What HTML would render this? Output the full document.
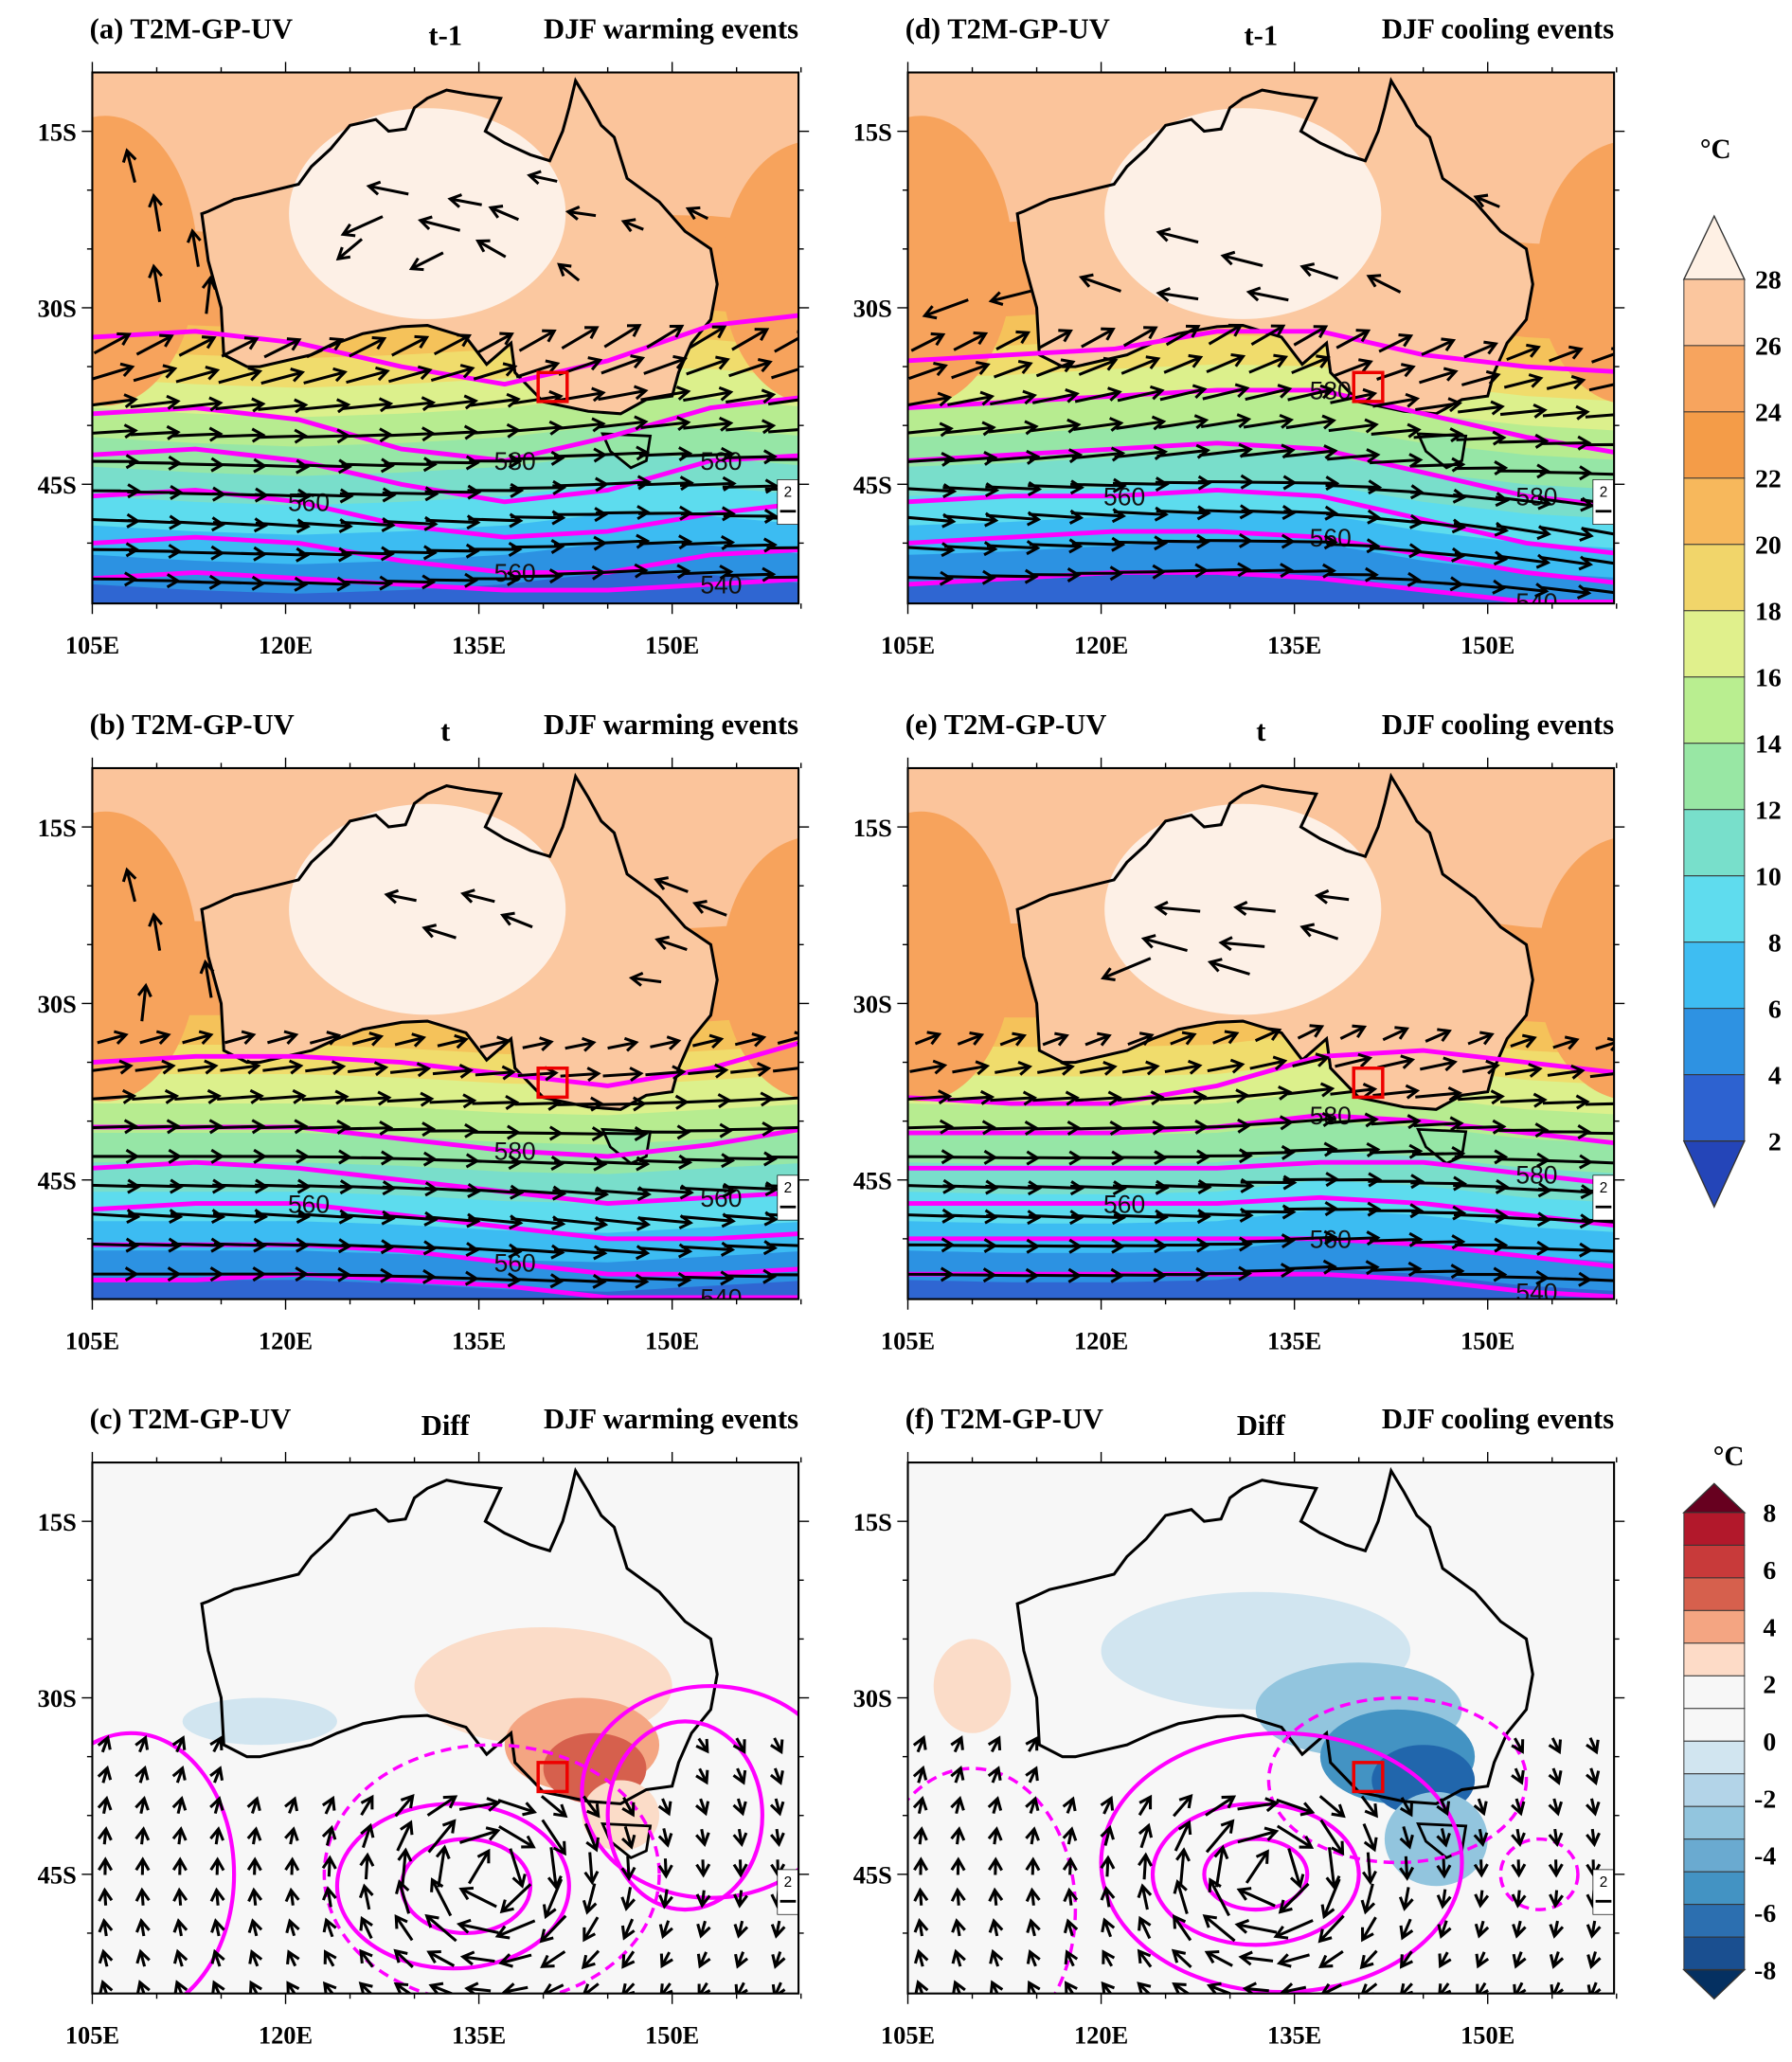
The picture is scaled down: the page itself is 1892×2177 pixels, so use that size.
<!DOCTYPE html>
<html><head><meta charset="utf-8"><style>
html,body{margin:0;padding:0;background:#fff}
svg{display:block}
text{font-family:"Liberation Serif",serif;font-weight:bold}
.lab{font-family:"Liberation Sans",sans-serif;font-weight:normal}
</style></head><body>
<svg id="fig" width="1892" height="2177" viewBox="0 0 1360 1565" xmlns="http://www.w3.org/2000/svg">
<defs>
<clipPath id="panelClip"><rect x="0" y="0" width="536" height="403"/></clipPath>
</defs>
</svg>
<script>
// ---- data ----
const panelOrigins=[[70,55],[689,55],[70,583],[689,583],[70,1110],[689,1110]];
const panelLetters=['(a)','(d)','(b)','(e)','(c)','(f)'];
const panelTimes=['t-1','t-1','t','t','Diff','Diff'];
const panelEvents=['DJF warming events','DJF cooling events','DJF warming events','DJF cooling events','DJF warming events','DJF cooling events'];
const lonTicks=[105,120,135,150];
const latTicks=[15,30,45];
const contourLons=[105,113,121,129,137,145,153,161];
const bandLats=[23,31,33.5,36,38.5,41,43.5,46,48.5,51,53.5];
const bandColors=['#fbc49b','#f7a35c','#f5c25a','#f0dc6c','#dcf08c','#b7ec90','#96e6a6','#79decb','#5ddcee','#3cbcf2','#2c92e2','#2f66d2'];
const gpA=[[32.5,32,33,35,36.5,34.5,31.5,30.5],[39,38.5,39.5,42,43,41,38.5,37.5],[42.5,42,43,45,46.5,45.5,43,42.5],[46,45.5,46.5,48.5,49.5,49,47.5,46.5],[50,49.5,50,51.5,52.5,52.5,51,50.5],[53,52.5,53,53.5,54,54,53.5,53]];
const gpD=[[34.5,34,33.5,32,32,34,35,35.5],[38.5,38,37.5,37,37,39,41,42.5],[43,42.5,42,41.5,42,44,46,47],[46.5,46,46,45.5,46,48,50,51],[50,49.5,49,49,49.5,51,52.5,53.5],[53.5,53,52.5,52.5,53,54,55,55]];
const gpB=[[35,34.5,34.5,35,36,37,35.5,33],[40.5,40.5,40.5,41.5,42.5,43,42,40.5],[44,43.5,44,45,46,47,46.5,46],[47.5,47,47,48,49,50,50,49.5],[50.5,50.5,50.5,51,52,53,53,52.5],[53.5,53.5,53,53.5,54,55,55,55]];
const gpE=[[38,38.5,38.5,37,34.5,34,35,36],[41,41,41,40.5,39.5,40,41,42],[44,44,44,44,43.5,43.5,44.5,45.5],[47,47,47,47,46.5,47,48,49],[50,50,50,50,50,50.5,51.5,52.5],[53,53,53,53,53,53.5,54.5,55]];
const gpSets=[gpA,gpD,gpB,gpE];
const gpLabels=[['580','580','560','560','540'],['580','580','560','560','540'],['580','560','560','560','540'],['580','580','560','560','540']];
const windLats=[33,35.5,38,40.5,43,45.5,48,50.5,53];
const windU=[[2.2,2.6,3,3,3.2,3.4,3.3,3.2,3],[2,2.3,2.8,3,3.2,3.4,3.3,3.2,3],[1.8,2.4,2.8,3,3.2,3.4,3.3,3.2,3.1],[1.5,2.2,2.8,3,3.2,3.4,3.3,3.2,3.1]];
const windV=[[1.2,0.8,0.4,0.2,0,0,-0.1,0,0],[1,0.8,0.5,0.3,0.2,-0.2,-0.3,-0.2,-0.1],[0.5,0.3,0.2,0.1,0,-0.1,-0.2,-0.1,0],[0.6,0.4,0.2,0.1,0,-0.1,-0.1,0,0]];
const landWindA=[[128,20,-2,0.4],[134,21,-1.6,0.3],[140,19,-1.4,0.3],[126,23,-2,-0.9],[132,23,-2,0.5],[137,22,-1.4,0.6],[143,22,-1.4,0.2],[147,23,-1,0.4],[125,25,-1.2,-1],[131,26,-1.6,-0.8],[136,25,-1.4,0.8],[142,27,-1,0.8],[152,22,-1,0.5],[108,18,-0.4,1.6],[110,22,-0.3,1.8],[113,25,-0.3,1.8],[110,28,-0.3,1.8],[114,29,0.2,1.8]];
const landWindD=[[126,24,-2,0.5],[131,26,-2,0.5],[137,27,-1.8,0.6],[142,28,-1.6,0.8],[120,28,-2,0.7],[126,29,-2,0.3],[133,29,-2,0.4],[113,29,-2,-0.5],[108,30,-2.2,-0.8],[150,21,-1.2,0.5]];
const landWindB=[[129,21,-1.5,0.3],[135,21,-1.6,0.4],[132,24,-1.6,0.5],[138,23,-1.5,0.6],[150,20,-1.6,0.6],[153,22,-1.6,0.6],[150,25,-1.5,0.5],[148,28,-1.5,0.2],[108,20,-0.4,1.6],[110,24,-0.3,1.8],[114,28,-0.3,1.8],[109,30,0.2,1.8]];
const landWindE=[[126,22,-2.2,0.2],[132,22,-2,0.2],[138,21,-1.6,0.2],[125,25,-2.2,0.6],[131,25,-2.2,0.2],[137,24,-1.8,0.6],[122,27,-2.4,-1],[130,27,-2,0.6]];
const landWinds=[landWindA,landWindD,landWindB,landWindE];
const blobsC=[[140,29,10,5,'#fbdcc8'],[143,34,6,4,'#f4a582'],[144,36,4,3,'#d6604d'],[118,32,6,2,'#d1e5f0'],[146,40,3,3,'#fbdcc8']];
const blobsF=[[132,26,12,5,'#d1e5f0'],[140,31,8,4,'#92c5de'],[143,35,6,4,'#4393c3'],[145,37,4,3,'#2166ac'],[146,42,4,4,'#92c5de'],[110,29,3,4,'#fbdcc8']];
const contoursC=[[133,46,9,7,false],[134,46,5,4,false],[136,45,13,11,true],[153,38,10,9,false],[151,40,6,8,false],[108,45,8,12,false]];
const contoursF=[[132,45,8,6,false],[132,45,4,3,false],[134,44,14,11,false],[143,37,10,7,true],[154,45,3,3,true],[110,48,8,12,true]];
const vortexC=[136,45,1];const vortexF=[133,45,1];
const cbTop=['28','26','24','22','20','18','16','14','12','10','8','6','4','2'];
const cbTopColors=['#fef0e4','#fbc69e','#f7a45e','#f49c48','#f7b85c','#f1d56a','#e0f08c','#b9ee90','#98e7a4','#78dfcb','#5fdcee','#3ebdf2','#2e92e2','#2d62d0','#2445b8'];
const cbBot=['8','6','4','2','0','-2','-4','-6','-8'];
const cbBotColors=['#67001f','#b2182b','#c83a3a','#d6604d','#f4a582','#fddbc7','#f7f7f7','#f7f7f7','#d1e5f0','#b3d4e8','#92c5de','#6aaad0','#4393c3','#2c6fb0','#1a4f90','#053061'];
const australia=[[113.5,22],[114,26],[115,30],[115.2,34],[117,35],[118,35],[122,34],[124,33],[126,32.2],[129,31.6],[131,31.5],[134,32.5],[135.6,34.8],[137.5,33],[137.8,35.5],[140,38],[143.5,38.8],[146,39],[148,37.8],[150,37.5],[150.5,35.5],[151.5,33],[153,31],[153.5,28],[153,25],[151,23.5],[149,21],[146.5,19],[145.5,15.5],[144.5,14.5],[143.5,12.5],[142.5,10.7],[142,13],[141.5,15],[140.5,17.5],[139,17],[137,16],[135.5,15],[136.7,12.2],[134,11.8],[132.5,11.5],[131,12.2],[130,13],[129.3,14.8],[128,15],[127,14],[125,14.5],[123.5,16.5],[122,18],[121,19.5],[118,20.3],[116,20.8],[114,21.8]];
const tasmania=[[144.6,40.7],[148.3,40.9],[148,43],[146.8,43.6],[145.2,42.2]];

const NS='http://www.w3.org/2000/svg';
const fig=document.getElementById('fig');
function el(tag,attrs,parent){const e=document.createElementNS(NS,tag);for(const k in attrs)e.setAttribute(k,attrs[k]);(parent||fig).appendChild(e);return e;}
const PW=536,PH=403;
const X=lon=>(lon-105)*9.78;
const Y=lat=>(lat-10)*8.93;
function polyPts(arr){return arr.map(p=>X(p[0]).toFixed(1)+','+Y(p[1]).toFixed(1)).join(' ');}
function curvePath(lats){let d='';contourLons.forEach((lon,i)=>{d+=(i?'L':'M')+X(lon).toFixed(1)+','+Y(lats[i]).toFixed(1);});return d;}
function bandShift(lon,p){const s=[[0,0.5,0.8,0.5,0,-1,-0.8,0],[0,-0.3,-0.8,-1.2,-1,0.5,1.5,2],[0,0,0,0.3,0.8,1,0.5,0],[0,0.2,0.2,0,-1,-0.5,0.5,1]][p];const i=Math.min(6,Math.floor((lon-105)/8));const t=(lon-contourLons[i])/8;return s[i]*(1-t)+s[i+1]*t;}
function arrow(g,x,y,u,v,scale){
  const dx=u*scale,dy=-v*scale;const x1=x-dx/2,y1=y-dy/2,x2=x+dx/2,y2=y+dy/2;
  const a=el('g',{},g);
  
  
  el('line',{x1:x1,y1:y1,x2:x2,y2:y2,stroke:'#000','stroke-width':2.2},a);
  const L=Math.hypot(dx,dy)||1,ux=dx/L,uy=dy/L,h=8;
  el('polyline',{points:`${x2-h*ux-h*0.6*uy},${y2-h*uy+h*0.6*ux} ${x2},${y2} ${x2-h*ux+h*0.6*uy},${y2-h*uy-h*0.6*ux}`,fill:'none',stroke:'#000','stroke-width':2.2},a);
}
panelOrigins.forEach((o,p)=>{
  const [ox,oy]=o;
  const diff=p>=4;
  const title=el('g',{},fig);
  
  
  el('text',{x:ox-2,y:oy-26,'font-size':22},title).textContent=panelLetters[p]+' T2M-GP-UV';
  el('text',{x:ox+268,y:oy-21,'font-size':22,'text-anchor':'middle'},title).textContent=panelTimes[p];
  el('text',{x:ox+PW,y:oy-26,'font-size':22,'text-anchor':'end'},title).textContent=panelEvents[p];
  const g=el('g',{transform:`translate(${ox},${oy})`},fig);
  
  
  const inner=el('g',{'clip-path':'url(#panelClip)'},g);
  if(!diff){
    const lonsF=[];for(let l=105;l<=161;l+=2)lonsF.push(l);
    el('rect',{x:0,y:0,width:PW,height:PH,fill:bandColors[0]},inner);
    bandLats.forEach((bl,i)=>{
      let d='M'+X(105)+','+(PH+5);
      lonsF.forEach(l=>{d+='L'+X(l).toFixed(1)+','+Y(bl+bandShift(l,p)).toFixed(1);});
      d+='L'+X(161)+','+(PH+5)+'Z';
      el('path',{d:d,fill:bandColors[i+1]},inner);
    });
    el('ellipse',{cx:X(106),cy:Y(26),rx:70,ry:110,fill:'#f7a35c'},inner);
    el('ellipse',{cx:X(161),cy:Y(27),rx:70,ry:100,fill:'#f7a35c'},inner);
    el('polygon',{points:polyPts(australia),fill:'#fbc8a0'},inner);
    el('ellipse',{cx:X(131),cy:Y(22),rx:105,ry:80,fill:'#fdf0e6'},inner);
    el('polygon',{points:polyPts(australia),fill:'none',stroke:'#000','stroke-width':2.2},inner);
    el('polygon',{points:polyPts(tasmania),fill:bandColors[6],stroke:'#000','stroke-width':2},inner);
    gpSets[p].forEach((c,i)=>{
      const path=el('path',{d:curvePath(c),fill:'none',stroke:'#ff00ff','stroke-width':3.5},inner);
      
      
      if(i>0&&gpLabels[p][i-1]){
        const li=2+(i%3)*2;
        el('text',{x:X(contourLons[li])-8,y:Y(c[li])+7,'font-size':19,class:'lab',fill:'#111'},inner).textContent=gpLabels[p][i-1];
      }
    });
    windLats.forEach((lat,r)=>{
      for(let lon=106.5;lon<161;lon+=3.3){
        arrow(inner,X(lon),Y(lat+bandShift(lon,p)*0.6),windU[p][r],windV[p][r]-bandShift(lon,p)*0.15,12);
      }
    });
    landWinds[p].forEach(w=>arrow(inner,X(w[0]),Y(w[1]),w[2],w[3],15));
  } else {
    el('rect',{x:0,y:0,width:PW,height:PH,fill:'#f7f7f7'},inner);
    (p===4?blobsC:blobsF).forEach(b=>{
      const e=el('ellipse',{cx:X(b[0]),cy:Y(b[1]),rx:b[2]*9.78,ry:b[3]*8.93,fill:b[4]},inner);
      
      
    });
    el('polygon',{points:polyPts(australia),fill:'none',stroke:'#000','stroke-width':2.2},inner);
    el('polygon',{points:polyPts(tasmania),fill:'none',stroke:'#000','stroke-width':2},inner);
    (p===4?contoursC:contoursF).forEach(c=>{
      const e=el('ellipse',{cx:X(c[0]),cy:Y(c[1]),rx:c[2]*9.78,ry:c[3]*8.93,fill:'none',stroke:'#ff00ff','stroke-width':c[4]?2.5:3,'stroke-dasharray':c[4]?'8 5':'none'},inner);
      
      
    });
    const vc=p===4?vortexC:vortexF;
    for(let lat=34;lat<=55;lat+=2.6){for(let lon=106;lon<161;lon+=2.9){
      if(lat<38&&lon>116&&lon<150)continue;
      const dx=lon-vc[0],dy=lat-vc[1];const r=Math.hypot(dx,dy)+0.1;
      const s=Math.max(0.9,Math.min(2.4,14/r))*vc[2];
      arrow(inner,X(lon),Y(lat),(dy/r)*s*-1,(dx/r)*s*-1,13);
    }}
  }
  el('rect',{x:X(139.6),y:Y(35.5),width:22,height:22,fill:'none',stroke:'#ee0000','stroke-width':2.5},g);
  el('rect',{x:PW-16,y:Y(45.5)-8,width:16,height:34,fill:'#fff',stroke:'#000','stroke-width':0.5},g);
  el('text',{x:PW-8,y:Y(45.5)+5,'font-size':11,class:'lab','text-anchor':'middle'},g).textContent='2';
  el('line',{x1:PW-14,y1:Y(45.5)+16,x2:PW-2,y2:Y(45.5)+16,stroke:'#000','stroke-width':2},g);
  el('rect',{x:0,y:0,width:PW,height:PH,fill:'none',stroke:'#000','stroke-width':1.5},g);
  for(let lon=105;lon<=160;lon+=5){const maj=lon%15===0;el('line',{x1:X(lon),y1:PH,x2:X(lon),y2:PH+(maj?8:4),stroke:'#000'},g);el('line',{x1:X(lon),y1:0,x2:X(lon),y2:-(maj?8:4),stroke:'#000'},g);}
  for(let lat=15;lat<=50;lat+=5){const maj=lat%15===0;el('line',{x1:0,y1:Y(lat),x2:-(maj?8:4),y2:Y(lat),stroke:'#000'},g);el('line',{x1:PW,y1:Y(lat),x2:PW+(maj?8:4),y2:Y(lat),stroke:'#000'},g);}
  lonTicks.forEach(l=>{const t=el('text',{x:X(l),y:PH+38,'font-size':19,'text-anchor':'middle'},g);t.textContent=l+'E';});
  latTicks.forEach(l=>{const t=el('text',{x:-12,y:Y(l)+7,'font-size':19,'text-anchor':'end'},g);t.textContent=l+'S';});
});
(function(){
  const g=el('g',{},fig);
  const x=1278,w=46,top=212,h=(866-212)/13;
  el('text',{x:1302,y:120,'font-size':21,'text-anchor':'middle'},g).textContent='°C';
  el('polygon',{points:`${x},${top} ${x+w},${top} ${x+w/2},${top-48}`,fill:cbTopColors[0],stroke:'#333'},g);
  for(let i=0;i<13;i++)el('rect',{x:x,y:top+i*h,width:w,height:h,fill:cbTopColors[i+1],stroke:'#333','stroke-width':0.7},g);
  el('polygon',{points:`${x},${866} ${x+w},${866} ${x+w/2},${916}`,fill:cbTopColors[14],stroke:'#333'},g);
  cbTop.forEach((t,i)=>{el('text',{x:1352,y:top+i*h+7,'font-size':20,'text-anchor':'end'},g).textContent=t;});
})();
(function(){
  const g=el('g',{},fig);
  const x=1278,w=46,top=1148,bot=1495,n=14,h=(bot-top)/n;
  el('text',{x:1312,y:1112,'font-size':21,'text-anchor':'middle'},g).textContent='°C';
  el('polygon',{points:`${x},${top} ${x+w},${top} ${x+w/2},${top-22}`,fill:cbBotColors[0],stroke:'#333'},g);
  for(let i=0;i<n;i++)el('rect',{x:x,y:top+i*h,width:w,height:h,fill:cbBotColors[i+1],stroke:'#333','stroke-width':0.7},g);
  el('polygon',{points:`${x},${bot} ${x+w},${bot} ${x+w/2},${bot+22}`,fill:cbBotColors[15],stroke:'#333'},g);
  cbBot.forEach((t,i)=>{el('text',{x:1348,y:top+i*(bot-top)/8+7,'font-size':20,'text-anchor':'end'},g).textContent=t;});
})();
</script>
</body></html>
